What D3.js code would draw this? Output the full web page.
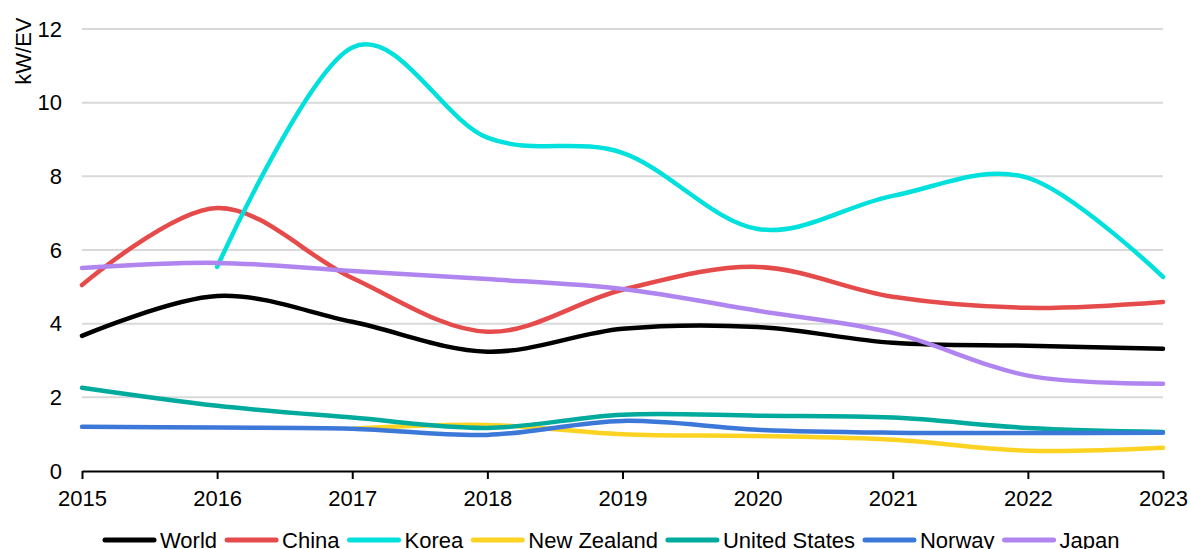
<!DOCTYPE html>
<html>
<head>
<meta charset="utf-8">
<script src="https://cdn.jsdelivr.net/npm/d3@7"></script>
<style>
  body { margin: 0; background: #fff; }
  svg { display: block; font-family: "Liberation Sans", Arial, sans-serif; }
</style>
</head>
<body>
<svg id="chart" width="1190" height="549"></svg>
<script>
// chart data (kW per EV), null = no value
const years = [2015, 2016, 2017, 2018, 2019, 2020, 2021, 2022, 2023];
const world = [3.67, 4.75, 4.05, 3.24, 3.86, 3.91, 3.48, 3.40, 3.32];
const china = [5.05, 7.14, 5.24, 3.78, 4.92, 5.54, 4.73, 4.43, 4.59];
const korea = [null, 5.54, 11.5, 9.05, 8.64, 6.57, 7.47, 7.96, 5.27];
const newZealand = [null, null, 1.15, 1.25, 1.00, 0.95, 0.85, 0.55, 0.63];
const unitedStates = [2.26, 1.77, 1.45, 1.17, 1.53, 1.50, 1.45, 1.17, 1.06];
const norway = [1.20, 1.18, 1.15, 0.98, 1.36, 1.12, 1.04, 1.03, 1.04];
const japan = [5.51, 5.65, 5.43, 5.21, 4.94, 4.35, 3.75, 2.59, 2.37];
const yTicks = [0, 2, 4, 6, 8, 10, 12];

const series = [
    { name: 'World', values: world, color: '#000000' },
    { name: 'China', values: china, color: '#e64b4b' },
    { name: 'Korea', values: korea, color: '#00e0dc' },
    { name: 'New Zealand', values: newZealand, color: '#fdd323' },
    { name: 'United States', values: unitedStates, color: '#00aa9c' },
    { name: 'Norway', values: norway, color: '#3c78d8' },
    { name: 'Japan', values: japan, color: '#b085f0' }
];

const fontSize = 22;
const svg = d3.select('#chart');
const margin = { top: 29, right: 27, bottom: 78, left: 82 };
const width = 1190 - margin.left - margin.right;
const height = 549 - margin.top - margin.bottom;

const g = svg.append('g')
    .attr('transform', `translate(${margin.left},${margin.top})`);

const x = d3.scaleLinear().domain([2015, 2023]).range([0, width]);
const y = d3.scaleLinear().domain([0, 12]).range([height, 0]);

// gridlines
g.selectAll('.grid')
    .data(yTicks.filter(d => d > 0))
    .enter()
    .append('line')
    .attr('x1', 0)
    .attr('x2', width)
    .attr('y1', d => y(d))
    .attr('y2', d => y(d))
    .attr('stroke', '#d9d9d9')
    .attr('stroke-width', 2);

// y axis labels
g.selectAll('.ylab')
    .data(yTicks)
    .enter()
    .append('text')
    .attr('x', -20)
    .attr('y', d => y(d))
    .attr('dy', '0.35em')
    .attr('text-anchor', 'end')
    .attr('font-size', fontSize)
    .attr('fill', '#000')
    .text(d => d);

// y axis title
g.append('text')
    .attr('transform', `translate(${-59},${y(11.4)}) rotate(-90)`)
    .attr('text-anchor', 'middle')
    .attr('dy', '0.35em')
    .attr('font-size', fontSize)
    .text('kW/EV');

// x axis
const xAxis = g.append('g')
    .attr('transform', `translate(0,${height})`)
    .call(d3.axisBottom(x).tickValues(years).tickFormat(d3.format('d')).tickSize(8).tickSizeOuter(0));
xAxis.select('.domain').attr('stroke', '#000').attr('stroke-width', 2);
xAxis.selectAll('.tick line').attr('stroke', '#000').attr('stroke-width', 2);
xAxis.selectAll('.tick text')
    .attr('font-size', fontSize)
    .attr('font-family', '"Liberation Sans", Arial, sans-serif')
    .attr('fill', '#000')
    .attr('dy', '1.1em');

// lines
const line = d3.line()
    .defined(d => d.v !== null)
    .x(d => x(d.year))
    .y(d => y(d.v))
    .curve(d3.curveCardinal.tension(0));

g.selectAll('.series')
    .data(series)
    .enter()
    .append('path')
    .attr('fill', 'none')
    .attr('stroke', d => d.color)
    .attr('stroke-width', 4.5)
    .attr('stroke-linecap', 'round')
    .attr('stroke-linejoin', 'round')
    .attr('d', d => line(years.map((yr, i) => ({ year: yr, v: d.values[i] }))));

// legend
const legend = svg.append('g').attr('transform', 'translate(0,540)');
let lx = 105;
series.forEach(s => {
    legend.append('line')
        .attr('x1', lx)
        .attr('x2', lx + 49)
        .attr('y1', 0)
        .attr('y2', 0)
        .attr('stroke', s.color)
        .attr('stroke-width', 5)
        .attr('stroke-linecap', 'round');
    const t = legend.append('text')
        .attr('x', lx + 55)
        .attr('y', 0)
        .attr('dy', '0.35em')
        .attr('font-size', fontSize)
        .attr('fill', '#000')
        .text(s.name);
    lx += 55 + t.node().getComputedTextLength() + 10;
});
</script>
</body>
</html>
